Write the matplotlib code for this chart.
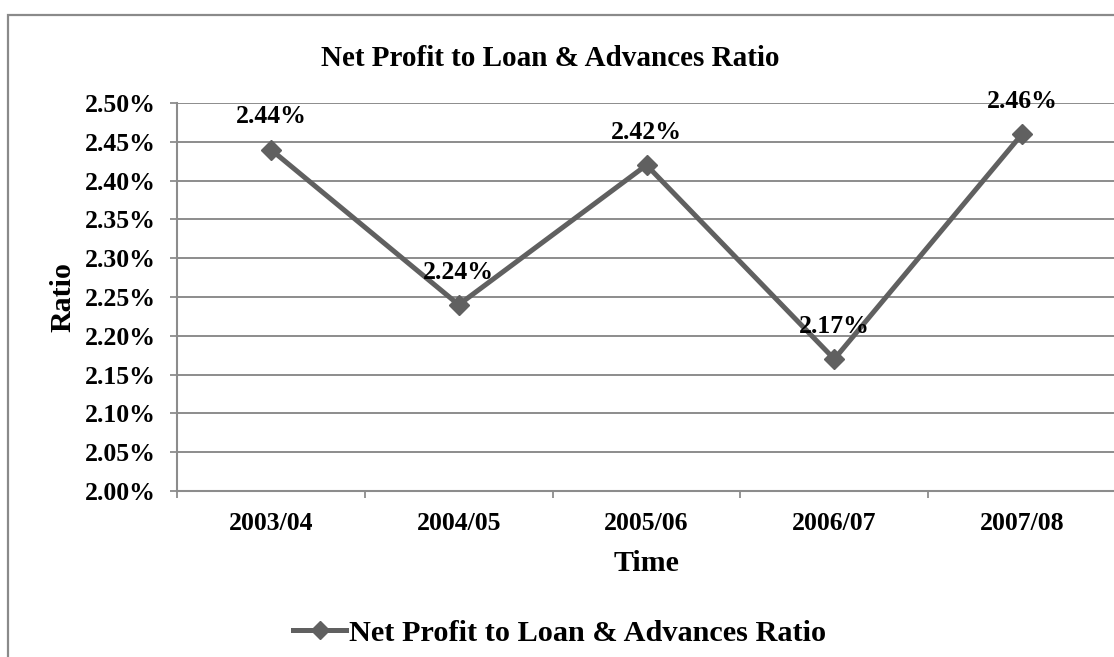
import matplotlib.pyplot as plt
from matplotlib.patches import Rectangle

# Net profit to loan & advances ratio, per fiscal year (in %)
anos = ['2003/04', '2004/05', '2005/06', '2006/07', '2007/08']
razao = [2.44, 2.24, 2.42, 2.17, 2.46]
ticks_y = [2.00, 2.05, 2.10, 2.15, 2.20, 2.25, 2.30, 2.35, 2.40, 2.45, 2.50]

plt.rcParams['font.family'] = ['Liberation Serif', 'DejaVu Serif']
plt.rcParams['font.weight'] = 'bold'

cinza = '#606060'
grade = '#8c8c8c'

fig = plt.figure(figsize=(11.14, 6.57), dpi=100)
ax = fig.add_axes([177/1114, 1 - 491/657, 939/1114, 388/657])

x = list(range(len(anos)))
linha, = ax.plot(x, razao, color=cinza, lw=3.6, marker='D', ms=10.5,
                 markerfacecolor=cinza, markeredgecolor=cinza,
                 label='Net Profit to Loan & Advances Ratio', clip_on=False)

for xi, v in zip(x, razao):
    ax.annotate('%.2f%%' % v, (xi, v), xytext=(0, 23.5), textcoords='offset points',
                ha='center', va='center', fontsize=18.5, fontweight='bold')

ax.set_xlim(-0.5, len(anos) - 0.5)
ax.set_ylim(2.00, 2.50)
ax.set_yticks(ticks_y)
ax.set_yticklabels(['%.2f%%' % t for t in ticks_y])
ax.set_xticks(x)
ax.set_xticklabels(anos)
ax.set_xticks([i + 0.5 for i in range(-1, len(anos))], minor=True)

ax.tick_params(axis='y', which='major', length=5, width=1.3, color=grade,
               labelsize=18.5, pad=10)
ax.tick_params(axis='x', which='major', length=0, labelsize=18.5, pad=15)
ax.tick_params(axis='x', which='minor', length=5, width=1.3, color=grade)

ax.grid(axis='y', color=grade, lw=1.4)
ax.set_axisbelow(True)
for lado in ['top', 'right']:
    ax.spines[lado].set_visible(False)
for lado in ['left', 'bottom']:
    ax.spines[lado].set_color(grade)
    ax.spines[lado].set_linewidth(1.5)

ax.set_xlabel('Time', fontsize=21.5, fontweight='bold', labelpad=11)
ax.set_ylabel('Ratio', fontsize=21.5, fontweight='bold', labelpad=6)

fig.text(550/1114, 1 - 58/657, 'Net Profit to Loan & Advances Ratio',
         ha='center', va='center', fontsize=21, fontweight='bold')

fig.legend(handles=[linha], loc='center', bbox_to_anchor=(560/1114, 1 - 633/657),
           frameon=False, fontsize=21.8, handlelength=1.75, handletextpad=0.1,
           markerscale=0.9)

# outer chart border
fig.add_artist(Rectangle((8/1114, -0.1), 1.2, 1 - 15/657 + 0.1,
                         transform=fig.transFigure, fill=False,
                         edgecolor='#8a8a8a', lw=1.6))

fig.savefig('out.png', dpi=100)
